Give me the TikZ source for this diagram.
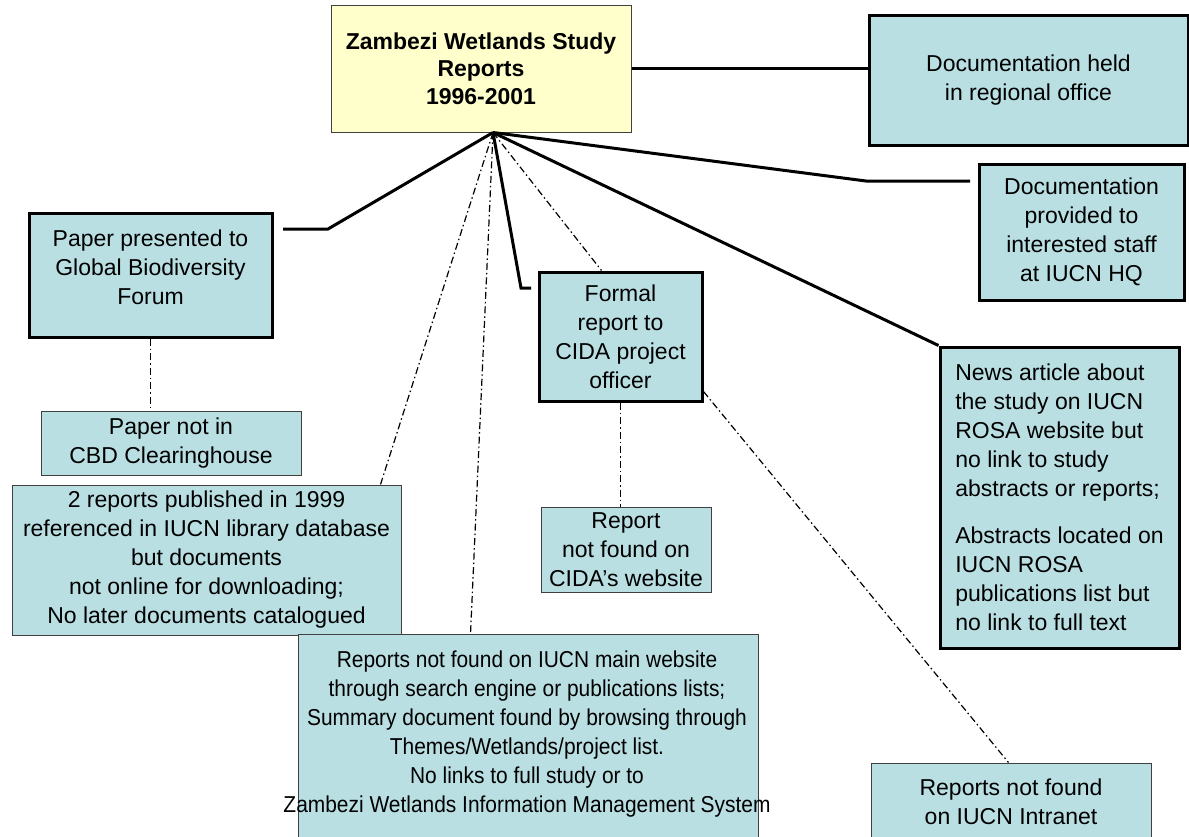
\documentclass[tikz,border=0pt]{standalone}
\usepackage{fontspec}
\setmainfont{Liberation Sans}
\usetikzlibrary{calc}
\definecolor{boxblue}{RGB}{185,223,227}
\definecolor{titleyellow}{RGB}{255,255,204}
\tikzset{
  box/.style={fill=boxblue, inner sep=0pt, align=center, font=\fontsize{23}{29}\selectfont},
  thickbox/.style={box, draw, line width=3pt},
  thinbox/.style={box, draw=black!75, line width=1pt},
  link/.style={line width=3pt},
  weaklink/.style={line width=1.2pt, dash pattern=on 7pt off 3pt on 1.5pt off 3pt},
}
\begin{document}
\begin{tikzpicture}[x=1pt,y=-1pt]
\useasboundingbox (0,0) rectangle (1189,836);
\clip (0,0) rectangle (1189,836);

\node[thinbox, fill=titleyellow, minimum width=300, minimum height=127,
  font=\bfseries\fontsize{23}{27.5}\selectfont] (study) at (481,68.5)
  {Zambezi Wetlands Study\\Reports\\1996-2001};

\node[thickbox, minimum width=319, minimum height=130] (regional) at (1028.5,80)
  {Documentation held\\in regional office};
\node[thickbox, minimum width=205, minimum height=136] (hq) at (1081.5,232)
  {Documentation\\provided to\\interested staff\\at IUCN HQ};
\node[thickbox, minimum width=243, minimum height=124, text depth=16pt] (paper) at (150.5,275)
  {Paper presented to\\Global Biodiversity\\Forum};
\node[thinbox, minimum width=260, minimum height=64] (cbd) at (171,443)
  {Paper not in\\CBD Clearinghouse};
\node[thinbox, minimum width=389, minimum height=150] (library) at (206.5,560)
  {2 reports published in 1999\\referenced in IUCN library database\\but documents\\not online for downloading;\\No later documents catalogued};
\node[thickbox, minimum width=163, minimum height=129] (cida) at (620.5,336.5)
  {Formal\\report to\\CIDA project\\officer};
\node[thinbox, minimum width=170, minimum height=85] (cidaweb) at (626,549.5)
  {Report\\not found on\\CIDA’s website};
\node[thickbox, minimum width=239, minimum height=301, align=left] (rosa) at (1059.5,497.5)
  {News article about\\the study on IUCN\\ROSA website but\\no link to study\\abstracts or reports;\\[18pt]Abstracts located on\\IUCN ROSA\\publications list but\\no link to full text};
\node[thinbox, minimum width=460, minimum height=230, anchor=north] (mainweb) at (528,634) {};
\node[box, fill=none, xscale=0.91, transform shape] (mainwebtext) at (527,734.5)
  {Reports not found on IUCN main website\\through search engine or publications lists;\\Summary document found by browsing through\\Themes/Wetlands/project list.\\No links to full study or to\\Zambezi Wetlands Information Management System};
\node[thinbox, minimum width=280, minimum height=77] (intranet) at (1011,801.5)
  {Reports not found\\on IUCN Intranet};

\coordinate (apex) at ($(study.south)+(12,0)$);
\coordinate (hqbend) at (866,181);
\coordinate (hqend) at (970,181);
\coordinate (paperbend) at (328,229);
\coordinate (paperend) at (283,229);
\coordinate (cidabend) at (521,288);
\coordinate (cidaend) at (531,288);

\draw[link] (study.east) -- (study.east -| regional.west);
\draw[link] (apex) -- (hqbend) -- (hqend);
\draw[link] (apex) -- (paperbend) -- (paperend);
\draw[link] (apex) -- (cidabend) -- (cidaend);
\draw[link] (apex) -- (rosa.north west);

\draw[weaklink] (apex) -- ($(cida.north west)+(64,0)$);
\draw[weaklink] (apex) -- ($(library.north east)+(-21,0)$);
\draw[weaklink] (apex) -- ($(mainweb.north west)+(173,0)$);
\draw[weaklink] (paper.south) -- (paper.south |- cbd.north);
\draw[weaklink] (cida.south) -- (cida.south |- cidaweb.north);
\draw[weaklink] ($(cida.south east)+(0,-11)$) -- ($(intranet.north west)+(138,0)$);

\end{tikzpicture}
\end{document}
